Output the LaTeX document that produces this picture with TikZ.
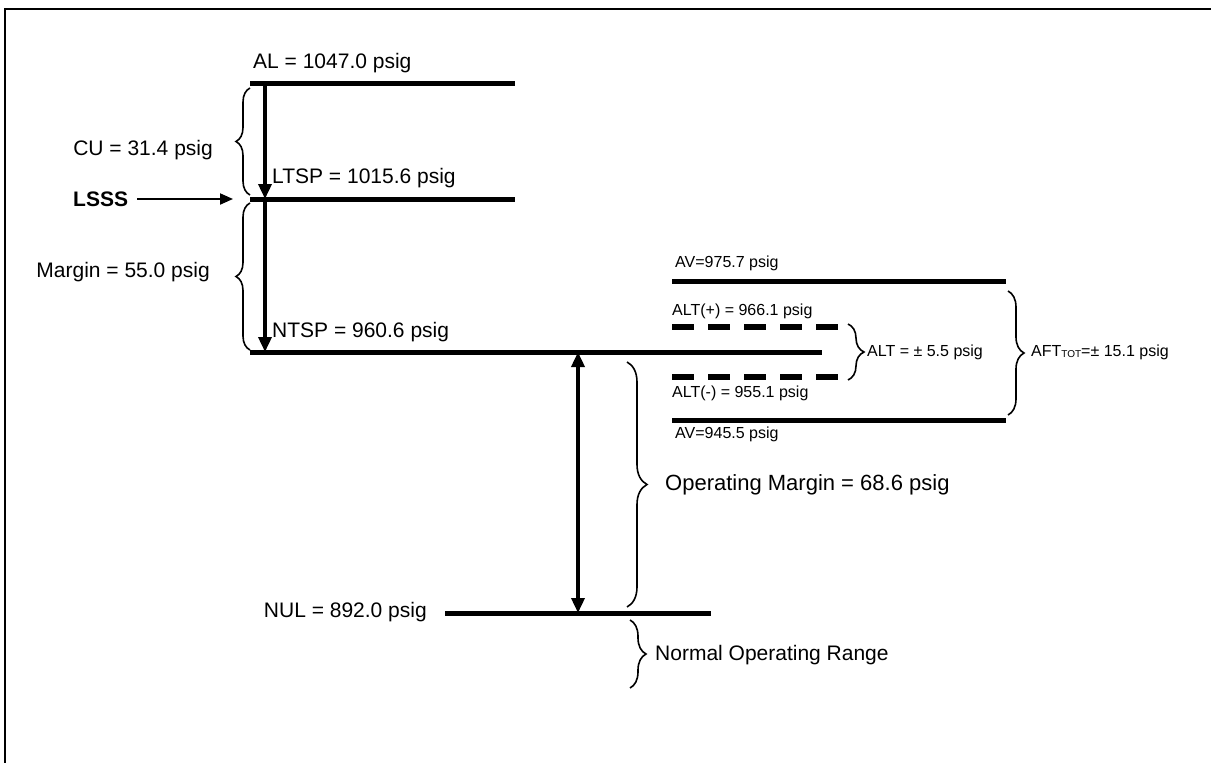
\documentclass[tikz,border=0pt]{standalone}
\usepackage{fontspec}
\setmainfont{Liberation Sans}
\usetikzlibrary{arrows.meta,decorations.pathreplacing}
\begin{document}
\begin{tikzpicture}[x=1pt,y=-1pt,
  lvl/.style={line width=5pt},
  dlvl/.style={line width=6pt, dash pattern=on 22pt off 14pt},
  big/.style={font=\fontsize{21}{25}\selectfont, inner sep=0pt, anchor=west},
  small/.style={font=\fontsize{16}{19}\selectfont, inner sep=0pt, anchor=west},
  brc/.style={line width=1.6pt, decorate, decoration={brace, amplitude=#1}},
  brc/.default=14pt,
  bigarr/.style={line width=3.5pt, -{Triangle[length=15pt,width=13pt]}},
  dblarr/.style={line width=3.5pt, {Triangle[length=15pt,width=13pt]}-{Triangle[length=15pt,width=13pt]}},
  thinarr/.style={line width=2pt, -{Triangle[length=13pt,width=11pt]}},
]
\useasboundingbox (0,0) rectangle (1211,763);
% frame
\draw[line width=2pt] (1211,9) -- (5,9) -- (5,763);

% level lines
\coordinate (alL) at (250,83);  \coordinate (alR) at (515,83);
\coordinate (ltL) at (250,199); \coordinate (ltR) at (515,199);
\coordinate (ntL) at (250,352); \coordinate (ntR) at (822,352);
\coordinate (nuL) at (445,613); \coordinate (nuR) at (711,613);
\coordinate (avtL) at (672,281); \coordinate (avtR) at (1006,281);
\coordinate (avbL) at (672,420); \coordinate (avbR) at (1006,420);
\coordinate (apL) at (672,327); \coordinate (apR) at (840,327);
\coordinate (amL) at (672,377); \coordinate (amR) at (840,377);

\draw[lvl] (alL) -- (alR);
\draw[lvl] (ltL) -- (ltR);
\draw[lvl] (ntL) -- (ntR);
\draw[lvl] (nuL) -- (nuR);
\draw[lvl] (avtL) -- (avtR);
\draw[lvl] (avbL) -- (avbR);
\draw[dlvl] (apL) -- (apR);
\draw[dlvl] (amL) -- (amR);

% labels
\node[big] (al) at (253,63) {AL = 1047.0 psig};
\node[big] (lt) at (272,178) {LTSP = 1015.6 psig};
\node[big] (nt) at (272,332) {NTSP = 960.6 psig};
\node[big,anchor=east] (nu) at (427,612) {NUL = 892.0 psig};
\node[big,anchor=east] (cu) at (213,150) {CU = 31.4 psig};
\node[big,anchor=east] (mg) at (210,272) {Margin = 55.0 psig};
\node[big,font=\fontsize{21}{25}\selectfont\bfseries] (lsss) at (73,199) {LSSS};
\node[small] (avt) at (675,263) {AV=975.7 psig};
\node[small] (altp) at (672,311) {ALT(+) = 966.1 psig};
\node[small] (altm) at (672,393) {ALT(-) = 955.1 psig};
\node[small] (avb) at (675,434) {AV=945.5 psig};
\node[small] (alt) at (867,352) {ALT = ± 5.5 psig};
\node[small] (aft) at (1031,352) {AFT{\fontsize{10}{10}\selectfont\raisebox{-1pt}{TOT}}=± 15.1 psig};
\node[big,font=\fontsize{22}{26}\selectfont] (om) at (665,485) {Operating Margin = 68.6 psig};
\node[big] (nor) at (655,655) {Normal Operating Range};

% arrows
\coordinate (a1s) at (265,83);  \coordinate (a1e) at (265,199);
\coordinate (a2s) at (265,199); \coordinate (a2e) at (265,352);
\coordinate (dS) at (578,352);  \coordinate (dE) at (578,613);
\coordinate (lsS) at (137,199); \coordinate (lsE) at (233,199);
\draw[bigarr] (a1s) -- (a1e);
\draw[bigarr] (a2s) -- (a2e);
\draw[dblarr] (dS) -- (dE);
\draw[thinarr] (lsS) -- (lsE);

% braces
\coordinate (cuB) at (250,195); \coordinate (cuT) at (250,88);
\coordinate (mgB) at (250,350); \coordinate (mgT) at (250,203);
\coordinate (altT) at (848,324); \coordinate (altB) at (848,380);
\coordinate (aftT) at (1008,291); \coordinate (aftB) at (1008,415);
\coordinate (omT) at (627,362); \coordinate (omB) at (627,607);
\coordinate (norT) at (630,620); \coordinate (norB) at (630,688);
\draw[brc] (cuB) -- (cuT);
\draw[brc] (mgB) -- (mgT);
\draw[brc=16pt] (altT) -- (altB);
\draw[brc=16pt] (aftT) -- (aftB);
\draw[brc=20pt] (omT) -- (omB);
\draw[brc=16pt] (norT) -- (norB);
\end{tikzpicture}
\end{document}
